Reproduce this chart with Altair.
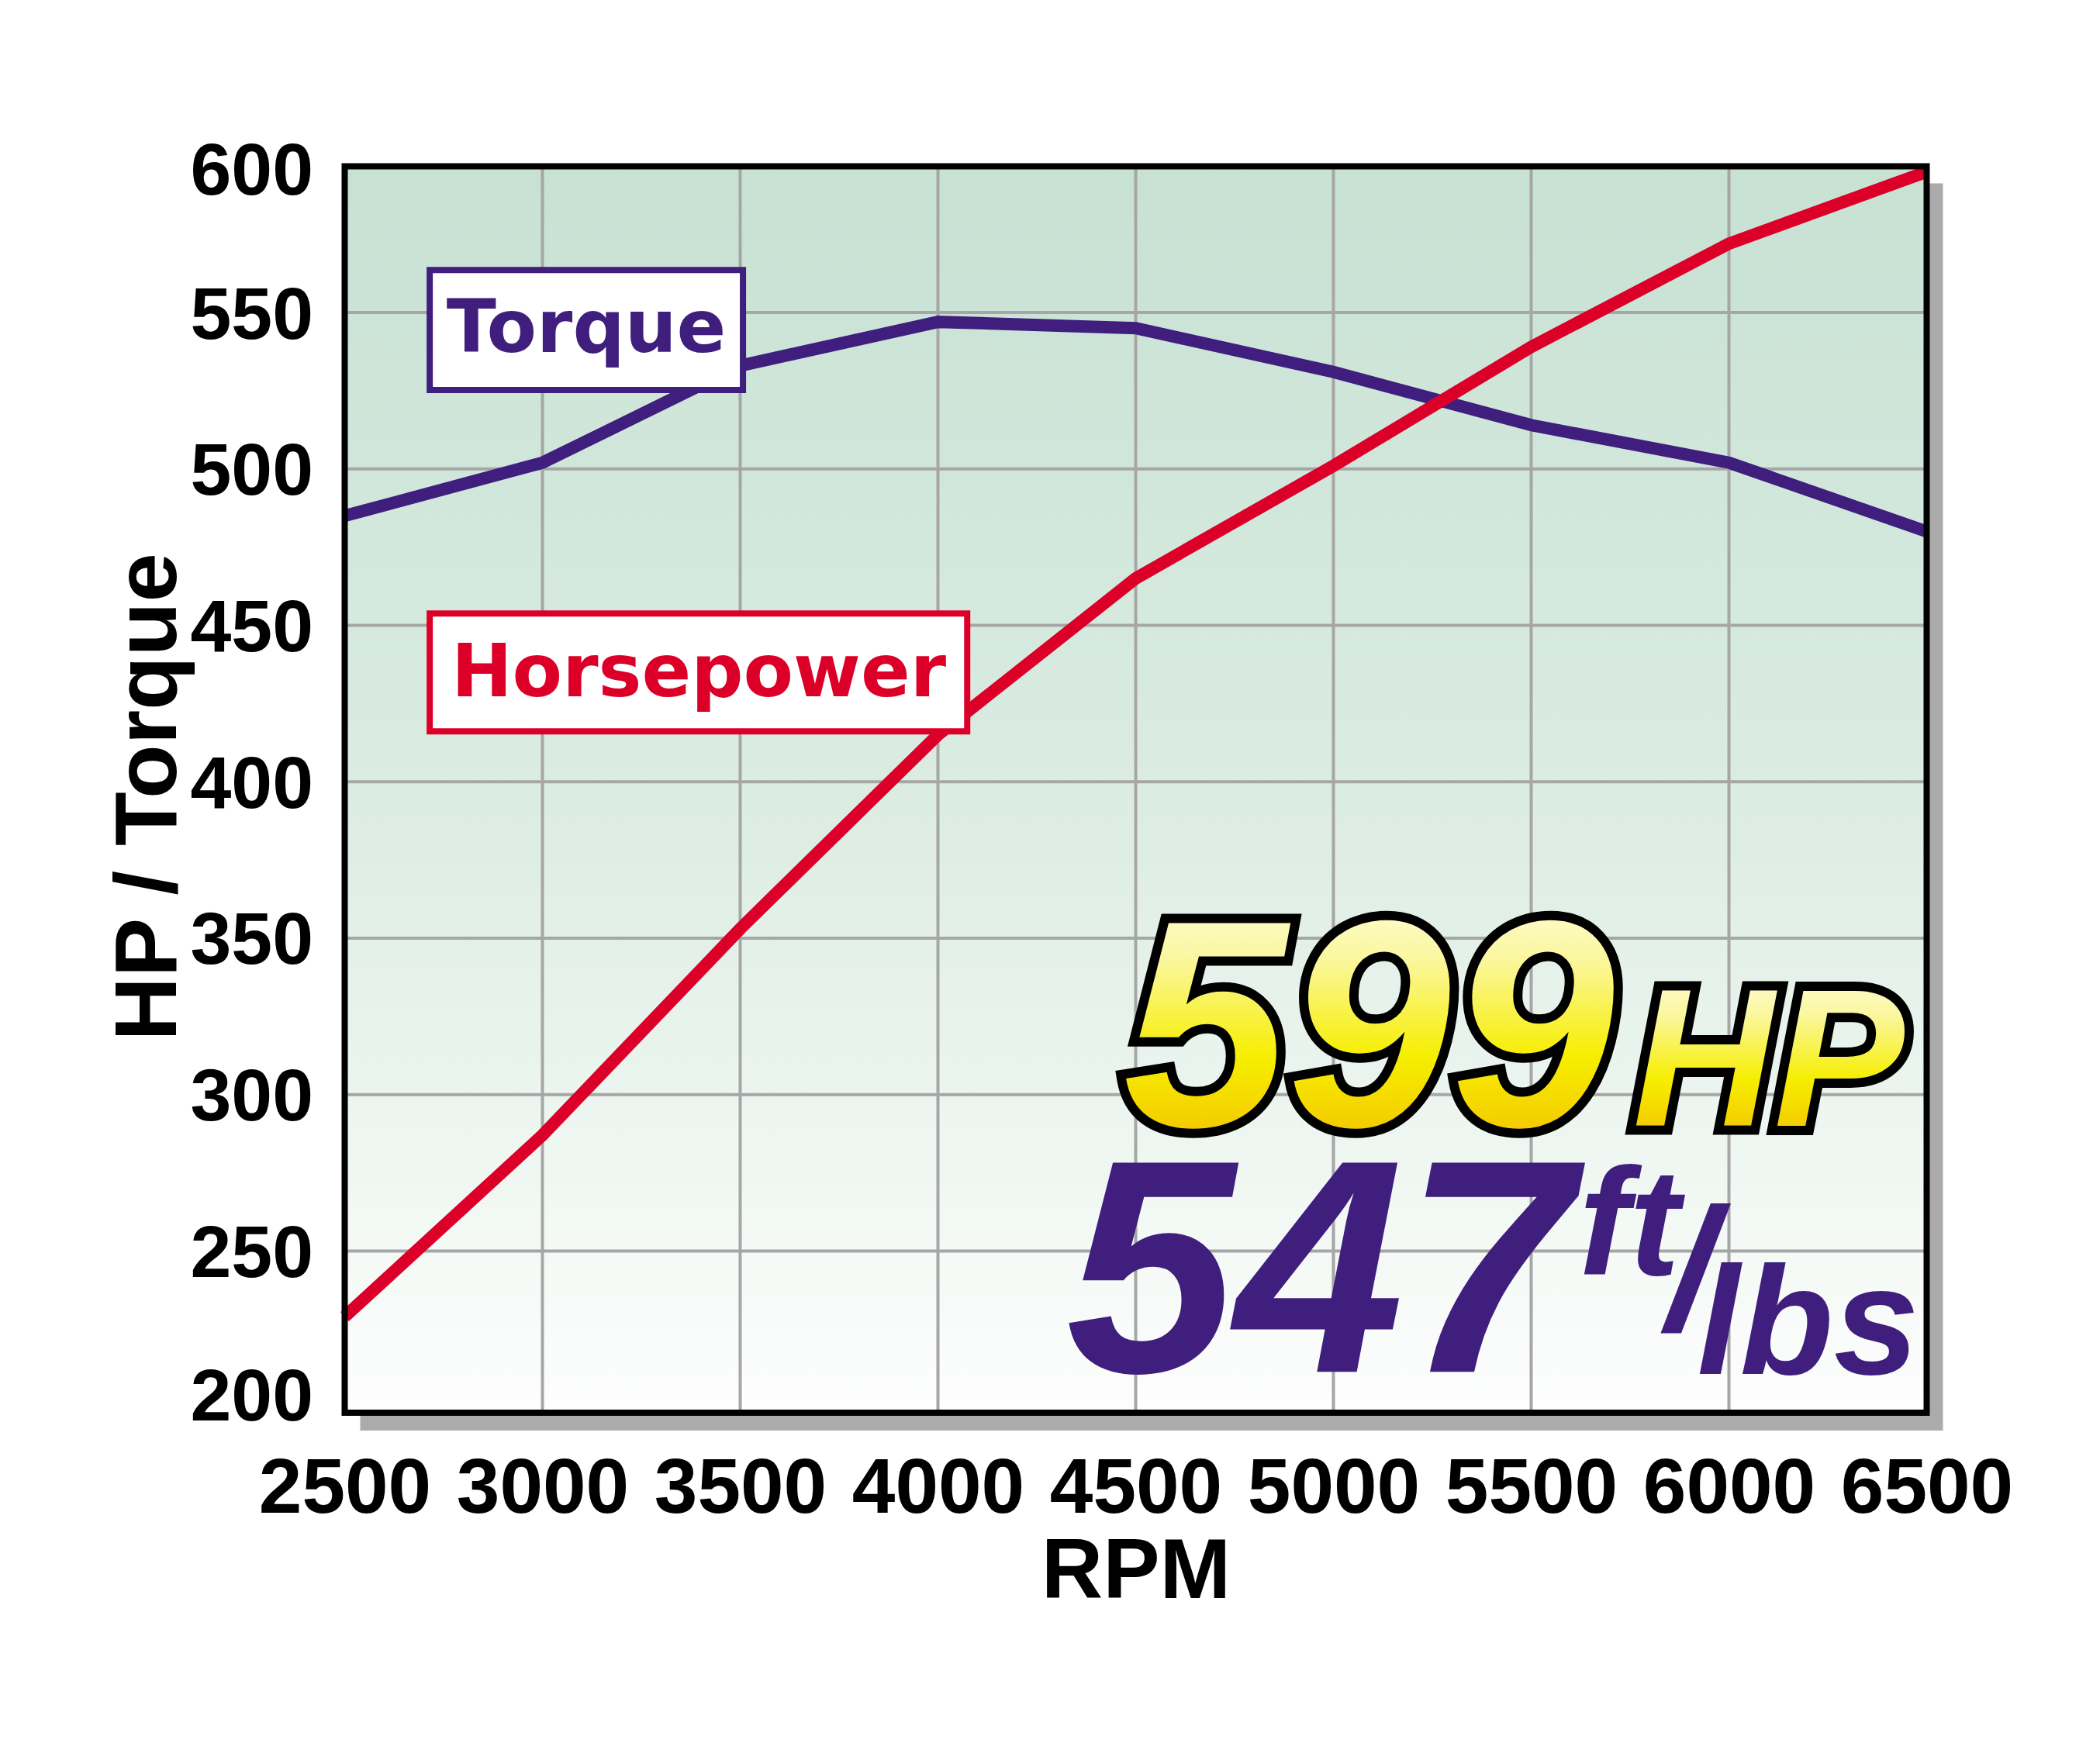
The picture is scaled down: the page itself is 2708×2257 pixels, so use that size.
import altair as alt
import pandas as pd

# ---------------- data ----------------
rpm = [2500, 3000, 3500, 4000, 4500, 5000, 5500, 6000, 6500]
torque = [485, 502, 533, 547, 545, 531, 514, 502, 480]
horsepower = [229, 287, 353, 415, 465, 501, 539, 572, 595]

x_ticks = rpm
y_ticks = [200, 250, 300, 350, 400, 450, 500, 550, 600]
x_domain = [2500, 6500]
y_domain = [198.3, 600]
frame_y = [198.3, 596.7]

series_names = ["Torque", "Horsepower"]
series_colors = ["#3f1e7d", "#dc0029"]

# label boxes (data coordinates)
box_x = [2715, 2715]
box_x2 = [3507, 4074]
box_y = [563.6, 453.8]
box_y2 = [525.2, 416.1]
box_text_x = [3111, 3395]
box_text_y = [537.3, 427.3]

# headline annotation texts
hp_text = ["599", "HP"]
hp_text_x = [5090, 6100]
hp_text_y = [290, 290]
hp_text_size = [380, 252]
tq_text = ["547", "ft", "/", "lbs"]
tq_text_x = [4965, 5748, 5905, 6200]
tq_text_y = [211.4, 242.4, 224.7, 210.8]
tq_text_size = [392, 196, 225, 198]

# ---------------- styles ----------------
W = 2040
H = 1822 - 201.3
BOLD = "Liberation Sans, Arial, sans-serif"
purple, red = series_colors

xs = alt.Scale(domain=x_domain, nice=False, zero=False)
ys = alt.Scale(domain=y_domain, nice=False, zero=False)

x_axis = alt.Axis(values=x_ticks, format="d", title="RPM", grid=False, domain=False,
                  ticks=False, tickSize=0, labelFont=BOLD, labelFontSize=100,
                  labelFontWeight="bold", labelColor="black", labelPadding=128,
                  labelBaseline="alphabetic", labelFlush=False, labelOverlap=False,
                  labelBound=False, labelLimit=0, titleFont=BOLD, titleFontSize=110,
                  titleFontWeight="bold", titleColor="black", titleBaseline="alphabetic",
                  titleAlign="center", titleX=W / 2, titleY=238)
y_axis = alt.Axis(values=y_ticks, format="d", title="HP / Torque", grid=False, domain=False,
                  ticks=False, tickSize=0, labelFont=BOLD, labelFontSize=95,
                  labelFontWeight="bold", labelColor="black", labelPadding=41,
                  labelBaseline="middle", labelLimit=0,
                  labelOffset={"condition": [{"test": "datum.value == 600", "value": 20},
                                             {"test": "datum.value == 200", "value": -13}],
                               "value": 4},
                  labelOverlap=False, labelBound=False, labelFlush=False,
                  titleFont=BOLD, titleFontSize=114, titleFontWeight="bold",
                  titleColor="black", titleAngle=270, titleBaseline="alphabetic",
                  titleAlign="center", titleX=-218, titleY=826)


def X(f):
    return alt.X(f, type="quantitative", scale=xs, axis=x_axis)


def Y(f):
    return alt.Y(f, type="quantitative", scale=ys, axis=y_axis)


frame_df = pd.DataFrame({"x": [x_domain[0]], "x2": [x_domain[1]],
                         "y": [frame_y[0]], "y2": [frame_y[1]]})

shadow = alt.Chart(frame_df).mark_rect(
    color="#ababab", xOffset=20, x2Offset=21, yOffset=23, y2Offset=22
).encode(x=X("x"), x2="x2", y=Y("y"), y2="y2")

bg = alt.Chart(frame_df).mark_rect(
    color=alt.Gradient(gradient="linear", x1=0, x2=0, y1=0, y2=1,
                       stops=[alt.GradientStop(offset=0, color="#c7e1d3"),
                              alt.GradientStop(offset=0.5, color="#dbece2"),
                              alt.GradientStop(offset=1, color="#fdfefd")])
).encode(x=X("x"), x2="x2", y=Y("y"), y2="y2")

vgrid = alt.Chart(pd.DataFrame({"x": x_ticks[1:-1], "y": [frame_y[0]] * 7,
                                "y2": [frame_y[1]] * 7})).mark_rule(
    color="#a6a6a6", strokeWidth=4
).encode(x=X("x"), y=Y("y"), y2="y2")

hgrid = alt.Chart(pd.DataFrame({"y": y_ticks[1:-1]})).mark_rule(
    color="#a6a6a6", strokeWidth=4
).encode(y=Y("y"))

lines_df = pd.DataFrame({
    "rpm": rpm * 2,
    "value": torque + horsepower,
    "series": [series_names[0]] * len(rpm) + [series_names[1]] * len(rpm),
})
lines = alt.Chart(lines_df).mark_line(strokeWidth=16, strokeJoin="miter").encode(
    x=X("rpm"), y=Y("value"),
    color=alt.Color("series:N", scale=alt.Scale(domain=series_names, range=series_colors),
                    legend=None),
    detail="series:N",
)

box_df = pd.DataFrame({"series": series_names, "x": box_x, "x2": box_x2,
                       "y": box_y, "y2": box_y2, "tx": box_text_x, "ty": box_text_y})
boxes = alt.Chart(box_df).mark_rect(fill="white", strokeWidth=8).encode(
    x=X("x"), x2="x2", y=Y("y"), y2="y2",
    stroke=alt.Stroke("series:N", scale=alt.Scale(domain=series_names, range=series_colors),
                      legend=None),
)
box_texts = alt.Chart(box_df).mark_text(
    font="DejaVu Sans", fontWeight="bold", fontSize=94, baseline="alphabetic", align="center"
).encode(
    x=X("tx"), y=Y("ty"), text="series:N",
    color=alt.Color("series:N", scale=alt.Scale(domain=series_names, range=series_colors),
                    legend=None),
)

yellow = alt.Gradient(gradient="linear", x1=0, x2=0, y1=0, y2=1,
                      stops=[alt.GradientStop(offset=0, color="#fffff2"),
                             alt.GradientStop(offset=0.3, color="#fbf7a0"),
                             alt.GradientStop(offset=0.6, color="#f6ee00"),
                             alt.GradientStop(offset=0.85, color="#f3c700"),
                             alt.GradientStop(offset=1, color="#ee9800")])


def headline(i):
    df = pd.DataFrame({"t": [hp_text[i]], "x": [hp_text_x[i]], "y": [hp_text_y[i]]})
    outline = alt.Chart(df).mark_text(
        font=BOLD, fontSize=hp_text_size[i], fontWeight="bold", fontStyle="italic",
        align="center", baseline="alphabetic", color="black", stroke="black",
        strokeWidth=24, strokeJoin="miter"
    ).encode(x=X("x"), y=Y("y"), text="t:N")
    fill = alt.Chart(df).mark_text(
        font=BOLD, fontSize=hp_text_size[i], fontWeight="bold", fontStyle="italic",
        align="center", baseline="alphabetic", color=yellow
    ).encode(x=X("x"), y=Y("y"), text="t:N")
    return outline, fill


o599, f599 = headline(0)
ohp, fhp = headline(1)

tq_df = pd.DataFrame({"t": tq_text, "x": tq_text_x, "y": tq_text_y, "fs": tq_text_size})
tq_texts = alt.Chart(tq_df).mark_text(
    font=BOLD, fontWeight="bold", fontStyle="italic", align="center",
    baseline="alphabetic", color=purple
).encode(x=X("x"), y=Y("y"), text="t:N", size=alt.Size("fs:Q", scale=None, legend=None))

frame = alt.Chart(frame_df).mark_rect(
    fillOpacity=0, stroke="black", strokeWidth=8
).encode(x=X("x"), x2="x2", y=Y("y"), y2="y2")

chart = alt.layer(
    shadow, bg, vgrid, hgrid, lines, boxes, box_texts,
    o599, ohp, f599, fhp, tq_texts, frame
).properties(
    width=W, height=H,
    padding={"left": 436.5, "top": 193.3, "right": 200, "bottom": 380},
    autosize=alt.AutoSizeParams(type="none"),
    background="white",
).configure_view(stroke=None)

chart.save("out.html", embed_options={"renderer": "svg", "actions": False})
